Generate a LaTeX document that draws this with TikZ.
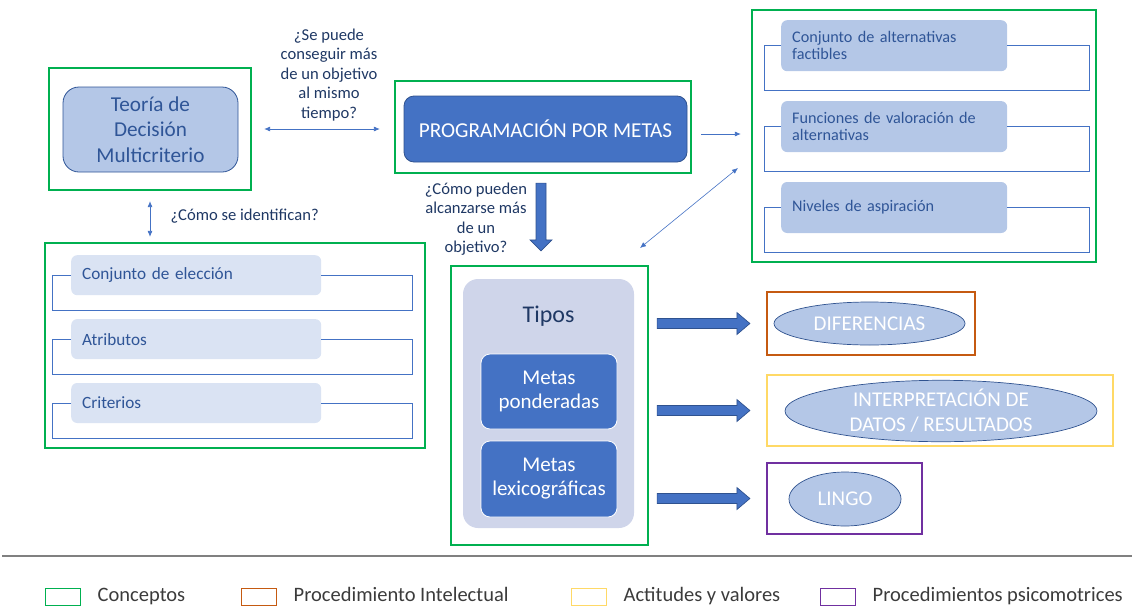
\documentclass[tikz,border=0pt]{standalone}
\usepackage{fontspec}
\setmainfont{Carlito}
\usetikzlibrary{arrows.meta,positioning,shapes.geometric,calc}

\definecolor{concept}{HTML}{00B050}
\definecolor{intel}{HTML}{C55A11}
\definecolor{attit}{HTML}{FFD966}
\definecolor{psico}{HTML}{7030A0}
\definecolor{mainblue}{HTML}{4472C4}
\definecolor{darkblue}{HTML}{2F528F}
\definecolor{lightblue}{HTML}{B4C7E7}
\definecolor{paleblue}{HTML}{DAE3F3}
\definecolor{panelblue}{HTML}{CFD5EA}
\definecolor{itemtext}{HTML}{2F5597}
\definecolor{navy}{HTML}{1F3864}
\definecolor{legendtext}{HTML}{3B3B3B}

\begin{document}
\begin{tikzpicture}[x=1pt,y=-1pt,>={Latex[length=6pt,width=5pt]},
    frame/.style={draw=#1,line width=2.2pt,inner sep=0pt},
    darkbox/.style={fill=mainblue,draw=white,line width=0.8pt,rounded corners=9pt,
                    text=white,align=center,font=\fontsize{21}{24}\selectfont},
    leftitem/.style={fill=paleblue,rounded corners=6pt,text=itemtext,align=left,anchor=north west,
                     inner xsep=11pt,text width=228pt,minimum height=40pt,font=\fontsize{17.2}{19}\selectfont},
    rightitem/.style={fill=lightblue,rounded corners=6pt,text=itemtext,align=left,anchor=north west,
                      inner xsep=11pt,text width=204pt,minimum height=51pt,font=\fontsize{16.2}{17}\selectfont},
    bracket/.style={draw=mainblue,line width=0.9pt},
    question/.style={text=navy,align=center,font=\fontsize{16.6}{19.5}\selectfont},
    oval/.style={ellipse,fill=lightblue,draw=darkblue,line width=0.7pt,inner sep=0pt,
                 text=white,align=center,font=\fontsize{21}{25}\selectfont},
    link/.style={draw=mainblue,line width=0.8pt},
    fatright/.style={fill=mainblue,draw=darkblue,line width=0.7pt,to path={
      ($(\tikztostart)+(0,-5)$) -- ($(\tikztotarget)+(-13,-5)$) -- ($(\tikztotarget)+(-13,-11)$)
      -- (\tikztotarget) -- ($(\tikztotarget)+(-13,11)$) -- ($(\tikztotarget)+(-13,5)$)
      -- ($(\tikztostart)+(0,5)$) -- cycle}},
    fatdown/.style={fill=mainblue,draw=darkblue,line width=0.7pt,to path={
      ($(\tikztostart)+(-5,0)$) -- ($(\tikztotarget)+(-5,-11)$) -- ($(\tikztotarget)+(-11,-11)$)
      -- (\tikztotarget) -- ($(\tikztotarget)+(11,-11)$) -- ($(\tikztotarget)+(5,-11)$)
      -- ($(\tikztostart)+(5,0)$) -- cycle}},
    legbox/.style={draw=#1,line width=1pt,minimum width=35pt,minimum height=17pt,inner sep=0pt},
    legtext/.style={text=legendtext,inner sep=0pt,text height=14pt,text depth=4pt,
                    font=\fontsize{20.5}{22}\selectfont}]
  \useasboundingbox (0,0) rectangle (1132,608);

  % theory of multicriteria decision
  \node[frame=concept,minimum width=202pt,minimum height=122pt] (tdmframe) at (150,129) {};
  \node[fill=lightblue,draw=itemtext,line width=0.8pt,rounded corners=16pt,minimum width=175pt,
        minimum height=85pt,text=itemtext,align=center,font=\fontsize{21.2}{25.5}\selectfont]
        (tdm) at (150.5,129.5) {Teoría de\\Decisión\\Multicriterio};

  % goal programming
  \node[frame=concept,minimum width=296pt,minimum height=92pt] (pmframe) at (543,127) {};
  \node[fill=mainblue,draw=darkblue,line width=0.8pt,rounded corners=10pt,minimum width=283pt,
        minimum height=66pt,text=white,font=\fontsize{21.2}{24}\selectfont]
        (pm) at (545.5,129) {PROGRAMACIÓN POR METAS};

  % elements of the model
  \node[frame=concept,minimum width=344pt,minimum height=252pt] (rightframe) at (924,136) {};
  \node[rightitem] (alt) at (781,20) {Conjunto de alternativas\\factibles};
  \node[rightitem,below=29.5pt of alt] (fun) {Funciones de valoración de\\alternativas};
  \node[rightitem,below=29.5pt of fun] (niv) {Niveles de aspiración};
  \foreach \n in {alt,fun,niv}
    \draw[bracket] (\n.west) -| ($(\n.south west)+(-17,19)$) -| ($(\n.east)+(82,0)$) -- (\n.east);

  % decision elements
  \node[frame=concept,minimum width=380pt,minimum height=205pt] (leftframe) at (235,345.5) {};
  \node[leftitem] (ce) at (71,255) {Conjunto de elección};
  \node[leftitem,below=23.5pt of ce] (attr) {Atributos};
  \node[leftitem,below=23.5pt of attr] (crit) {Criterios};
  \foreach \n in {ce,attr,crit}
    \draw[bracket] (\n.west) -| ($(\n.south west)+(-19,15)$) -| ($(\n.east)+(91,0)$) -- (\n.east);

  % types
  \node[frame=concept,minimum width=197pt,minimum height=279pt] (tiposframe) at (549.5,405.5) {};
  \node[fill=panelblue,rounded corners=15pt,minimum width=171pt,minimum height=249pt]
        (panel) at (548.5,403.5) {};
  \node[text=navy,font=\fontsize{24}{28}\selectfont] (tipos) at (548.5,316) {Tipos};
  \node[darkbox,minimum width=136pt,minimum height=75pt] (mp) at (549,391.5) {Metas\\ponderadas};
  \node[darkbox,minimum width=136pt,minimum height=76pt] (ml) at (549,479) {Metas\\lexicográficas};

  % outcomes
  \node[frame=intel,minimum width=208pt,minimum height=63pt] (diffframe) at (871,323.5) {};
  \node[oval,minimum width=191pt,minimum height=43pt] (diff) at (869.5,323.5) {DIFERENCIAS};
  \node[frame=attit,minimum width=346pt,minimum height=71pt] (interpframe) at (940,410.5) {};
  \node[oval,minimum width=312pt,minimum height=58pt] (interp) at (941,411)
        {INTERPRETACIÓN DE\\DATOS / RESULTADOS};
  \node[frame=psico,minimum width=155pt,minimum height=71pt] (lingoframe) at (844.5,498.5) {};
  \node[oval,minimum width=112pt,minimum height=54pt] (lingo) at (845,499) {LINGO};

  % questions
  \node[question] (q1) at (329,75) {¿Se puede\\conseguir más\\de un objetivo\\al mismo\\tiempo?};
  \node[question] (q2) at (476,219) {¿Cómo pueden\\alcanzarse más\\de un\\objetivo?};
  \node[question,anchor=west] (q3) at (167,216) {¿Cómo se identifican?};

  % connectors
  \draw[link,<->] ([xshift=12pt]tdmframe.east) -- ([xshift=-14pt]tdmframe.east -| pmframe.west);
  \draw[link,<->] ([yshift=-10pt]tdmframe.south) -- ([yshift=5pt]tdmframe.south |- leftframe.north);
  \coordinate (pmout) at ([shift={(9pt,-7pt)}]pmframe.east);
  \draw[link,->,shorten >=10pt] (pmout) -- (pmout -| rightframe.west);
  \coordinate (diagA) at (640,248);
  \coordinate (diagB) at (738,168);
  \draw[link,<->,line width=0.6pt] (diagA) -- (diagB);
  \draw[fatdown] ($(pmframe.south)+(-2,9)$) to ($(pmframe.south |- tiposframe.north)+(-2,-14)$);
  \foreach \f in {diffframe,interpframe,lingoframe}
    \draw[fatright] ($(tiposframe.east |- \f.west)+(8,0)$) to ($(\f.west)+(-16,0)$);

  % legend
  \draw[draw=gray,line width=1.3pt] (2,556) -- (1132,556);
  \foreach \c/\x/\t [count=\i] in {concept/45/Conceptos,intel/241/Procedimiento Intelectual,
                                   attit/571/Actitudes y valores,psico/820/Procedimientos psicomotrices}{
    \node[legbox=\c] (key\i) at (\x+17.5,596.5) {};
    \node[legtext,right=17pt of key\i] (lab\i) {\t};
  }
\end{tikzpicture}
\end{document}
